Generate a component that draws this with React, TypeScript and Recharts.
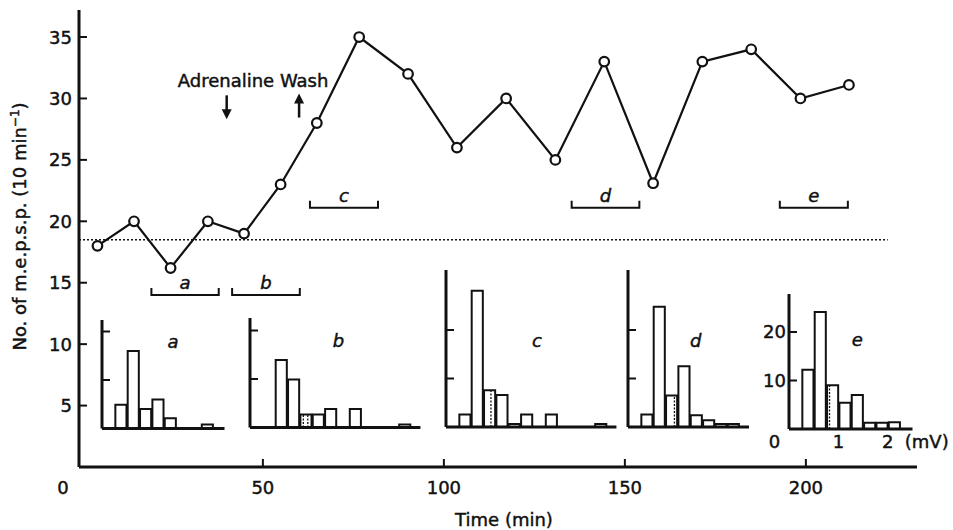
import { LineChart, Line, XAxis, YAxis, ReferenceLine, ReferenceDot, BarChart, Bar } from "recharts";

const FONT = "'DejaVu Sans', 'Liberation Sans', sans-serif";
const INK = "#111";

// time course of m.e.p.s.p. frequency
const times = [4.3, 14.4, 24.5, 34.8, 44.8, 54.9, 64.9, 76.6, 90.1, 103.6, 117.2, 130.8, 144.3, 157.8, 171.4, 184.9, 198.5, 211.9];
const rates = [18, 20, 16.2, 20, 19, 23, 28, 35, 32, 26, 30, 25, 33, 23.1, 33, 34, 30, 31.1];
const timeTicks = [0, 50, 100, 150, 200];
const rateTicks = [5, 10, 15, 20, 25, 30, 35];
const controlRate = 18.5;
const controlSpan = [-0.8, 222.6];

// sampling periods used for the histograms
const periodNames = ["a", "b", "c", "d", "e"];
const periodFrom = [19.2, 41.5, 63, 135.3, 192.8];
const periodTo = [37.8, 60.2, 81.8, 154, 211.6];
const periodRate = [14, 14, 21.1, 21.1, 21.1];

// drug application
const eventNames = ["Adrenaline", "Wash"];
const eventTimes = [40, 60];
const eventTips = [28.3, 30.4];
const eventDirs = ["down", "up"];
const eventLabelTimes = [39.8, 61.4];
const eventLabelRate = 30.95;

// amplitude histograms, 0.25 mV bins
const binCentres = [0.125, 0.375, 0.625, 0.875, 1.125, 1.375, 1.625, 1.875, 2.125, 2.375, 2.625, 2.875, 3.125, 3.375];
const ampTicks = [0, 1, 2];
const countTicks = [10, 20];
const histA = [0, 4.9, 16.0, 4.0, 6.0, 2.1, 0, 0, 0.8, 0];
const histB = [0, 0, 13.9, 9.9, 2.7, 2.7, 3.8, 0, 3.8, 0, 0, 0, 0.6, 0];
const histC = [0, 2.6, 28.1, 7.6, 6.6, 0.6, 2.6, 0, 2.6, 0, 0, 0, 0.6, 0];
const histD = [0, 2.6, 24.8, 6.5, 12.5, 2.4, 1.4, 0.6, 0.6, 0];
const histE = [0, 12.2, 24.1, 9.0, 5.4, 7.0, 1.3, 1.3, 1.4, 0];
// dotted dividers drawn inside bars (mV)
const dotsB = [1.08, 1.17];
const dotsC = [0.91];
const dotsD = [0.94];
const dotsE = [0.82];
const tagMv = [1.44, 1.79, 1.84, 1.37, 1.38];
const tagCount = [18, 18, 17.9, 17.9, 18.5];

const PX_PER_MV = 49.4;
const PX_PER_COUNT = 4.85;
const BIN_PX = 12.35;

const insets = [
  { hist: histA, dots: [] as number[], left: 102, base: 428.5, top: 320, mvMax: 2.48, labelled: false },
  { hist: histB, dots: dotsB, left: 250, base: 427.5, top: 318, mvMax: 3.45, labelled: false },
  { hist: histC, dots: dotsC, left: 446, base: 427, top: 270, mvMax: 3.45, labelled: false },
  { hist: histD, dots: dotsD, left: 627.5, base: 427, top: 270, mvMax: 2.45, labelled: false },
  { hist: histE, dots: dotsE, left: 788.5, base: 429, top: 294, mvMax: 2.5, labelled: true },
];

// print-like weight: a thin stroke on top of the regular face
const txt = { fontFamily: FONT, fontSize: 18, fill: INK, stroke: INK, strokeWidth: 0.45 };

const RateTick = ({ x, y, payload }: any) => (
  <g>
    <line x1={x} x2={x + 8} y1={y} y2={y} stroke={INK} strokeWidth={2} />
    <text {...txt} x={x - 7} y={y} dy="0.36em" textAnchor="end">{payload.value}</text>
  </g>
);

const TimeTick = ({ x, y, payload }: any) => (
  <g>
    {payload.value !== 0 && <line x1={x} x2={x} y1={y} y2={y - 8} stroke={INK} strokeWidth={2} />}
    <text {...txt} x={payload.value === 0 ? x - 19 : x} y={y + 26.5} textAnchor="middle">{payload.value}</text>
  </g>
);

const yTitle = ({ viewBox }: any) => {
  const cx = viewBox.x + 1;
  const cy = viewBox.y + viewBox.height / 2 - 12;
  return (
    <text {...txt} x={cx} y={cy} textAnchor="middle" dy="0.36em" transform={`rotate(-90 ${cx} ${cy})`}>
      No. of m.e.p.s.p. (10 min<tspan dy={-7} fontSize={12}>−1</tspan><tspan dy={7}>)</tspan>
    </text>
  );
};

const xTitle = ({ viewBox }: any) => (
  <text {...txt} x={viewBox.x + viewBox.width / 2 + 6} y={viewBox.y + 59} textAnchor="middle">Time (min)</text>
);

function bracket(name: string) {
  return (p: any) => (
    <g>
      <path d={`M${p.x1},${p.y1 - 7}L${p.x1},${p.y1}L${p.x2},${p.y1}L${p.x2},${p.y1 - 7}`} fill="none" stroke={INK} strokeWidth={2} />
      <text {...txt} x={(p.x1 + p.x2) / 2} y={p.y1 - 6} textAnchor="middle" fontStyle="italic">{name}</text>
    </g>
  );
}

function arrow(dir: string) {
  return (p: any) => {
    const s = dir === "down" ? -1 : 1;
    const { cx, cy } = p;
    return (
      <g>
        <line x1={cx} x2={cx} y1={cy + s * 8} y2={cy + s * 24} stroke={INK} strokeWidth={2.5} />
        <path d={`M${cx - 5},${cy + s * 10}L${cx + 5},${cy + s * 10}L${cx},${cy}Z`} fill={INK} />
      </g>
    );
  };
}

function word(label: string) {
  return (p: any) => <text {...txt} x={p.cx} y={p.cy} textAnchor="middle">{label}</text>;
}

const AXIS_W = 30;
const PAD_TOP = 2;
const X_H = 30;
const RIGHT = 52;

function Inset({ idx }: { idx: number }) {
  const cfg = insets[idx];
  const rows = cfg.hist.map((n, i) => ({ mv: binCentres[i], n }));
  const plotW = cfg.mvMax * PX_PER_MV;
  const plotH = cfg.base - cfg.top;
  const countMax = plotH / PX_PER_COUNT;

  const countTick = ({ x, y, payload }: any) => (
    <g>
      <line x1={x} x2={x + 8} y1={y} y2={y} stroke={INK} strokeWidth={2} />
      {cfg.labelled && <text {...txt} x={x - 3} y={y} dy="0.36em" textAnchor="end">{payload.value}</text>}
    </g>
  );
  const ampTick = ({ x, y, payload }: any) => (
    <g>
      <text {...txt} x={payload.value === 0 ? x - 14.5 : x} y={y + 18.5} textAnchor="middle">{payload.value}</text>
      {payload.value === 2 && <text {...txt} x={x + 17} y={y + 18.5}>(mV)</text>}
    </g>
  );

  return (
    <div style={{ position: "absolute", left: cfg.left - AXIS_W, top: cfg.top - PAD_TOP }}>
      <BarChart
        width={AXIS_W + plotW + RIGHT}
        height={plotH + PAD_TOP + X_H}
        data={rows}
        margin={{ top: PAD_TOP, right: RIGHT, left: 0, bottom: 0 }}
      >
        <XAxis
          type="number"
          dataKey="mv"
          domain={[0, cfg.mvMax]}
          allowDataOverflow
          ticks={ampTicks}
          tick={cfg.labelled ? ampTick : false}
          tickLine={false}
          tickSize={0}
          tickMargin={0}
          height={X_H}
          axisLine={{ stroke: INK, strokeWidth: 3 }}
        />
        <YAxis
          type="number"
          domain={[0, countMax]}
          allowDataOverflow
          ticks={countTicks}
          tick={countTick}
          tickLine={false}
          tickSize={0}
          tickMargin={0}
          width={AXIS_W}
          axisLine={{ stroke: INK, strokeWidth: 3 }}
        />
        <Bar dataKey="n" fill="#fff" stroke={INK} strokeWidth={2} barSize={BIN_PX} isAnimationActive={false} />
        {cfg.dots.map((mv, k) => (
          <ReferenceLine
            key={k}
            segment={[{ x: mv, y: 0 }, { x: mv, y: cfg.hist[Math.floor(mv / 0.25)] }]}
            stroke={INK}
            strokeWidth={1.3}
            strokeDasharray="2 1.5"
          />
        ))}
        <ReferenceDot x={tagMv[idx]} y={tagCount[idx]} r={0} shape={(p: any) => (
          <text {...txt} x={p.cx} y={p.cy} dy="0.36em" textAnchor="middle" fontStyle="italic">{periodNames[idx]}</text>
        )} />
      </BarChart>
    </div>
  );
}

export default function App() {
  const rows = times.map((t, i) => ({ t, rate: rates[i] }));
  return (
    <div style={{ position: "absolute", left: 0, top: 0, width: 953, height: 530, background: "#fff" }}>
      <LineChart width={953} height={530} data={rows} margin={{ top: 10, right: 36, left: 19, bottom: 0 }}>
        <XAxis
          type="number"
          dataKey="t"
          domain={[-0.8, 230.7]}
          allowDataOverflow
          ticks={timeTicks}
          tick={TimeTick}
          tickLine={false}
          tickSize={0}
          tickMargin={0}
          height={63}
          axisLine={{ stroke: INK, strokeWidth: 3 }}
          label={xTitle}
        />
        <YAxis
          type="number"
          domain={[0, 37.2]}
          allowDataOverflow
          ticks={rateTicks}
          tick={RateTick}
          tickLine={false}
          tickSize={0}
          tickMargin={0}
          width={60}
          axisLine={{ stroke: INK, strokeWidth: 3 }}
          label={yTitle}
        />
        <ReferenceLine
          segment={[{ x: controlSpan[0], y: controlRate }, { x: controlSpan[1], y: controlRate }]}
          stroke={INK}
          strokeWidth={1.5}
          strokeDasharray="2 2"
        />
        {periodNames.map((name, i) => (
          <ReferenceLine
            key={name}
            segment={[{ x: periodFrom[i], y: periodRate[i] }, { x: periodTo[i], y: periodRate[i] }]}
            shape={bracket(name)}
          />
        ))}
        {eventNames.map((name, i) => (
          <ReferenceDot key={name} x={eventTimes[i]} y={eventTips[i]} r={0} shape={arrow(eventDirs[i])} />
        ))}
        {eventNames.map((name, i) => (
          <ReferenceDot key={name + "-label"} x={eventLabelTimes[i]} y={eventLabelRate} r={0} shape={word(name)} />
        ))}
        <Line
          type="linear"
          dataKey="rate"
          stroke={INK}
          strokeWidth={2.2}
          dot={{ r: 4.8, fill: "#fff", stroke: INK, strokeWidth: 2.2 }}
          isAnimationActive={false}
        />
      </LineChart>
      {insets.map((_, i) => <Inset key={i} idx={i} />)}
    </div>
  );
}
